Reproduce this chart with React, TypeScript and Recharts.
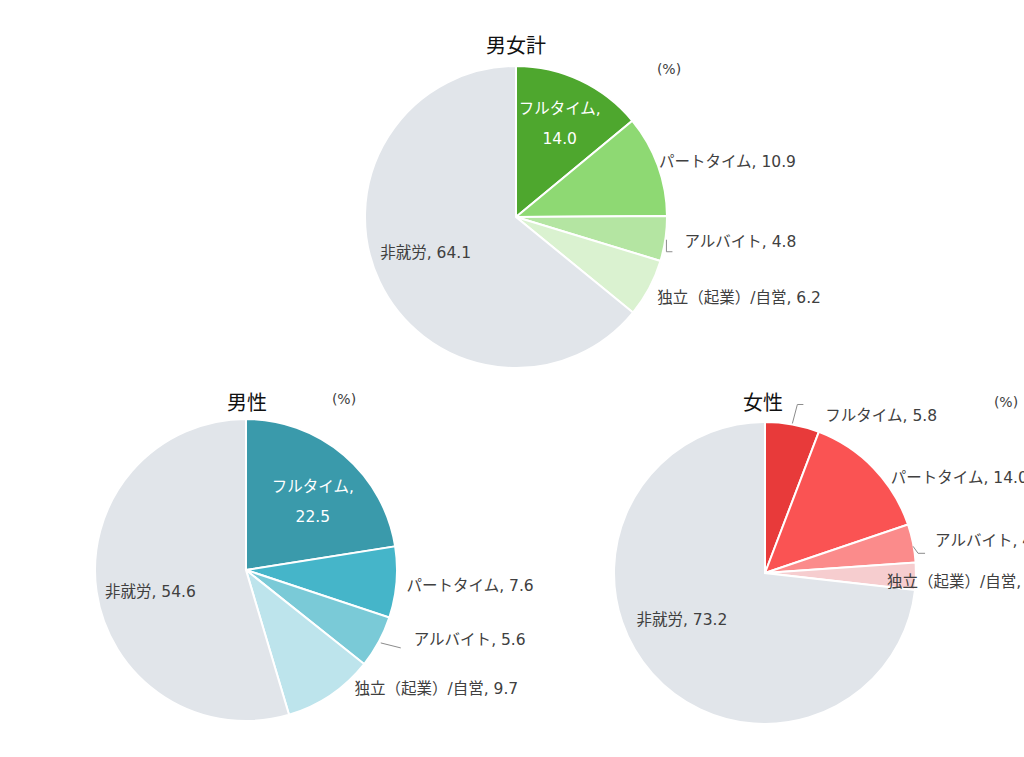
import React from "react";
import { PieChart, Pie, Cell } from "recharts";

const CATEGORIES = ["フルタイム", "パートタイム", "アルバイト", "独立（起業）/自営", "非就労"];
const TOTAL_VALUES = [14.0, 10.9, 4.8, 6.2, 64.1];
const MALE_VALUES = [22.5, 7.6, 5.6, 9.7, 54.6];
const FEMALE_VALUES = [5.8, 14.0, 4.1, 2.9, 73.2];

const GREEN = ["#4ea72e", "#8ed973", "#b4e5a2", "#daf2d0", "#e1e5ea"];
const TEAL = ["#3a9aab", "#45b5c9", "#7acad7", "#bde4ec", "#e1e5ea"];
const RED = ["#e83a3a", "#fa5353", "#fb8b8b", "#f6cdcf", "#e1e5ea"];

const FONT = "'DejaVu Sans', 'Noto Sans CJK JP', sans-serif";
const TITLE_FONT = "'Noto Sans CJK JP', sans-serif";
const TEXT = "#404040";
const RAD = Math.PI / 180;

type Place = {
  mode: "in2" | "in1" | "out";
  r: number;
  dx: number;
  dy: number;
  leader?: number[][];
};

// label placement per slice (relative to slice mid angle)
const TOTAL_PLACE: Place[] = [
  { mode: "in2", r: 0.68, dx: 0, dy: 0 },
  { mode: "out", r: 1, dx: 1, dy: -3 },
  { mode: "out", r: 1, dx: 19, dy: 3, leader: [[1, 1], [1, 13], [7, 13]] },
  { mode: "out", r: 1, dx: 8, dy: 10 },
  { mode: "in1", r: 0.64, dx: -3, dy: -5 },
];
const MALE_PLACE: Place[] = [
  { mode: "in2", r: 0.62, dx: 6, dy: 3 },
  { mode: "out", r: 1, dx: 10, dy: 4 },
  { mode: "out", r: 1, dx: 35, dy: -2, leader: [[2, 1], [22, 6]] },
  { mode: "out", r: 1, dx: 24, dy: -6 },
  { mode: "in1", r: 0.64, dx: 0, dy: 8 },
];
const FEMALE_PLACE: Place[] = [
  { mode: "out", r: 1, dx: 33, dy: -8, leader: [[0, -1], [5, -20], [11, -20]] },
  { mode: "out", r: 1, dx: 17, dy: 10 },
  { mode: "out", r: 1, dx: 22, dy: -2, leader: [[0, 3], [5, 10], [12, 10]] },
  { mode: "out", r: 1, dx: -29, dy: 6 },
  { mode: "in1", r: 0.64, dx: -11, dy: -17 },
];

const toRows = (values: number[]) =>
  CATEGORIES.map((name, i) => ({ name, value: values[i] }));

const makeLabel = (places: Place[]) => (props: any) => {
  const { cx, cy, midAngle, outerRadius, index, name, value } = props;
  const p = places[index];
  const cos = Math.cos(-midAngle * RAD);
  const sin = Math.sin(-midAngle * RAD);
  const ex = cx + outerRadius * cos;
  const ey = cy + outerRadius * sin;
  const x = cx + outerRadius * p.r * cos + p.dx;
  const y = cy + outerRadius * p.r * sin + p.dy;
  const v = value.toFixed(1);
  const common = { fontFamily: FONT, fontSize: 15.5, dominantBaseline: "central" as const };
  if (p.mode === "in2") {
    return (
      <g>
        <text x={x} y={y - 15} fill="#fff" textAnchor="middle" {...common}>
          {name},
        </text>
        <text x={x} y={y + 15} fill="#fff" textAnchor="middle" {...common}>
          {v}
        </text>
      </g>
    );
  }
  const path = p.leader
    ? "M" + p.leader.map(([lx, ly]) => `${ex + lx},${ey + ly}`).join(" L")
    : null;
  return (
    <g>
      {path && <path d={path} fill="none" stroke="#8c8c8c" strokeWidth={1} />}
      <text
        x={x}
        y={y}
        fill={TEXT}
        textAnchor={p.mode === "in1" ? "middle" : "start"}
        {...common}
      >
        {name}, {v}
      </text>
    </g>
  );
};

const Title = ({ x, y, text, size }: { x: number; y: number; text: string; size: number }) => (
  <div
    style={{
      position: "absolute",
      left: x - 100,
      top: y - size * 0.7,
      width: 200,
      textAlign: "center",
      fontFamily: size > 16 ? TITLE_FONT : FONT,
      fontSize: size,
      lineHeight: `${size * 1.4}px`,
      color: size > 16 ? "#111" : TEXT,
      zIndex: 2,
    }}
  >
    {text}
  </div>
);

export default function App() {
  const charts = [
    { values: TOTAL_VALUES, colors: GREEN, places: TOTAL_PLACE, cx: 516, cy: 217 },
    { values: MALE_VALUES, colors: TEAL, places: MALE_PLACE, cx: 246, cy: 570 },
    { values: FEMALE_VALUES, colors: RED, places: FEMALE_PLACE, cx: 765, cy: 573 },
  ];
  return (
    <div
      style={{
        position: "fixed",
        left: 0,
        top: 0,
        width: 1024,
        height: 757,
        overflow: "hidden",
        background: "#fff",
      }}
    >
      <PieChart
        width={1024}
        height={757}
        margin={{ top: 0, right: 0, bottom: 0, left: 0 }}
        style={{ position: "absolute", left: 0, top: 0 }}
      >
        {charts.map((c, k) => (
          <Pie
            key={k}
            data={toRows(c.values)}
            dataKey="value"
            nameKey="name"
            cx={c.cx}
            cy={c.cy}
            outerRadius={151}
            startAngle={90}
            endAngle={-270}
            stroke="#ffffff"
            strokeWidth={2}
            label={makeLabel(c.places)}
            labelLine={false}
            isAnimationActive={false}
          >
            {c.values.map((_, i) => (
              <Cell key={i} fill={c.colors[i]} />
            ))}
          </Pie>
        ))}
      </PieChart>
      <Title x={516} y={45} text="男女計" size={20} />
      <Title x={247} y={402} text="男性" size={20} />
      <Title x={763} y={402} text="女性" size={20} />
      <Title x={669} y={70} text="(%)" size={14} />
      <Title x={344} y={400} text="(%)" size={14} />
      <Title x={1006} y={403} text="(%)" size={14} />
    </div>
  );
}
